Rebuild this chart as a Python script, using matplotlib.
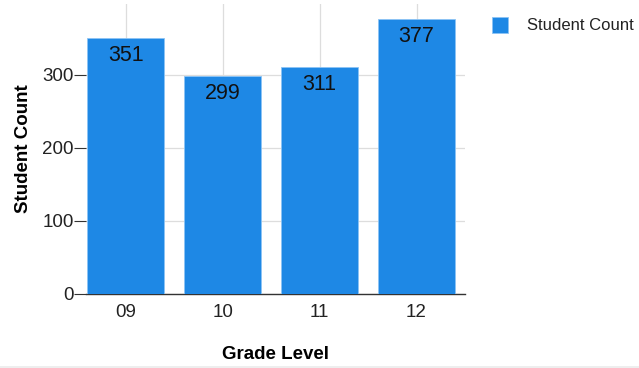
import matplotlib.pyplot as plt
from matplotlib.patches import Rectangle

plt.rcParams["font.family"] = ["Liberation Sans", "DejaVu Sans"]

# data
grades = ["09", "10", "11", "12"]
counts = [351, 299, 311, 377]
yticks = [0, 100, 200, 300]
series_name = "Student Count"

bar_color = "#1E88E5"

fig = plt.figure(figsize=(6.39, 3.68), dpi=100)
ax = fig.add_axes([86 / 639, 74 / 368, (465 - 86) / 639, (294 - 4) / 368])

x = list(range(len(grades)))
bars = ax.bar(x, counts, width=0.79, color=bar_color, edgecolor="#8cc4f5",
              linewidth=0.6, zorder=3)

for b, v in zip(bars, counts):
    ax.text(b.get_x() + b.get_width() / 2, v - 10, str(v), ha="center", va="top",
            fontsize=15.5, color="#111111", zorder=4)

ax.set_xlim(-0.41, 3.5)
ax.set_ylim(0, 397)
ax.set_xticks(x)
ax.set_xticklabels(grades, fontsize=13.5, color="#222222")
ax.set_yticks(yticks)
ax.set_yticklabels([str(t) for t in yticks], fontsize=13.5, color="#222222")

ax.grid(True, color="#dddddd", linewidth=0.9, zorder=0)
ax.set_axisbelow(True)
for s in ["top", "right", "left"]:
    ax.spines[s].set_visible(False)
ax.spines["bottom"].set_color("#333333")
ax.spines["bottom"].set_linewidth(1.0)
ax.tick_params(axis="x", length=0, pad=7)
ax.tick_params(axis="y", length=9, width=0.8, color="#333333", pad=0)

ax.set_ylabel(series_name, fontsize=13.5, fontweight="bold", labelpad=7)
ax.set_xlabel("Grade Level", fontsize=13.5, fontweight="bold", labelpad=18)

# legend drawn by hand so it sits where the reference has it
fig.patches.append(Rectangle((492 / 639, 1 - 33 / 368), 16 / 639, 16 / 368,
                             transform=fig.transFigure, facecolor=bar_color,
                             edgecolor="#8cc4f5", linewidth=0.6))
fig.text(527 / 639, 1 - 25 / 368, series_name, ha="left", va="center",
         fontsize=12, color="#222222")

# faint grey strip along the bottom edge
fig.patches.append(Rectangle((0, 0), 1, 2.5 / 368, transform=fig.transFigure,
                             facecolor="#eeeeee", edgecolor="none"))

fig.savefig("out.png", dpi=100)
